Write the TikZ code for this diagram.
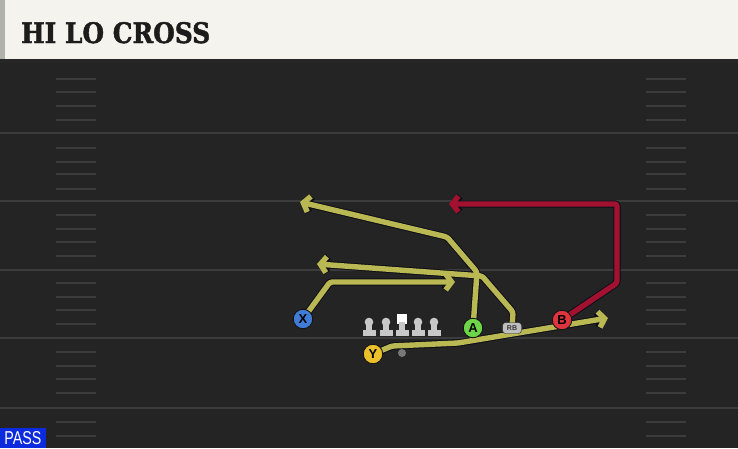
\documentclass[tikz,border=0pt]{standalone}
\usepackage{fontspec}
\usepackage{graphicx}
\usetikzlibrary{arrows.meta}
\newfontfamily\titlefont{DejaVu Serif}[BoldFeatures={FakeBold=1.6}]
\newfontfamily\lblfont{Liberation Sans}
\definecolor{fieldbg}{RGB}{36,36,36}
\definecolor{fieldline}{RGB}{60,60,60}
\definecolor{headbg}{RGB}{245,243,237}
\definecolor{headedge}{RGB}{176,178,172}
\definecolor{routey}{RGB}{185,184,82}
\definecolor{router}{RGB}{162,18,48}
\definecolor{routeedge}{RGB}{14,14,24}
\definecolor{cx}{RGB}{64,124,214}
\definecolor{ca}{RGB}{108,214,72}
\definecolor{cy}{RGB}{236,192,42}
\definecolor{cb}{RGB}{222,52,62}
\definecolor{linegray}{RGB}{200,200,200}
\definecolor{passblue}{RGB}{12,42,222}
\pgfdeclarelayer{field}
\pgfdeclarelayer{routes}
\pgfsetlayers{field,routes,main}
\tikzset{
  player/.style={circle, draw={rgb,255:red,20;green,20;blue,20}, line width=0.9pt, minimum size=19.5pt, inner sep=0pt,
    font=\lblfont\bfseries\fontsize{13}{13}\selectfont, text=black},
  routeout/.style={line width=7.4pt, draw=routeedge, rounded corners=2.5pt,
    -{Straight Barb[length=6pt,width=16pt]}},
  routein/.style={line width=5.4pt, rounded corners=2.5pt, -{Straight Barb[length=6pt,width=16pt]}},
  hash/.style={fieldline, line width=1.3pt},
  yard/.style={fieldline, line width=2pt},
}
\newcommand{\lineman}[1]{%
  \fill[linegray] (#1,322) circle (4.3pt);
  \fill[linegray] (#1-3,322) rectangle (#1+3,331);
  \fill[linegray] (#1-6.5,329.5) rectangle (#1+6.5,336);
}
\begin{document}
\begin{tikzpicture}[x=1pt,y=-1pt]
\useasboundingbox (0,0) rectangle (738,448);
\begin{pgfonlayer}{field}
\fill[fieldbg] (0,0) rectangle (738,448);
\foreach \yy in {133,201,270,338,408} \draw[yard] (0,\yy) -- (738,\yy);
\foreach \yy in {79,92,106,120,148,162,174,189,215,229,242,256,283,297,310,324,352,366,379,393,422,436} {
  \draw[hash] (56,\yy) -- (96,\yy);
  \draw[hash] (646,\yy) -- (686,\yy);
}
\fill[headbg] (0,0) rectangle (738,59);
\fill[headedge] (0,0) rectangle (5,59);
\fill[black!85] (0,59) rectangle (738,63);
\end{pgfonlayer}
\node[anchor=base west, inner sep=0pt, text={rgb,255:red,28;green,28;blue,28}] (title) at (21,43)
  {\resizebox{189pt}{21pt}{\titlefont\bfseries HI LO CROSS}};
% players
\node[player, fill=cx] (X) at (303,319) {X};
\node[player, fill=cy] (Y) at (373,354) {Y};
\node[player, fill=ca] (A) at (473,328) {A};
\node[player, fill=cb] (B) at (562,320) {B};
\node[draw={rgb,255:red,30;green,30;blue,30}, fill={rgb,255:red,190;green,190;blue,190}, rounded corners=3pt,
  minimum width=19pt, minimum height=11pt, inner sep=0pt,
  font=\lblfont\bfseries\fontsize{7}{7}\selectfont, text={rgb,255:red,55;green,55;blue,55}] (RB) at (512,328) {RB};
\node[circle, fill={rgb,255:red,120;green,120;blue,120}, minimum size=8pt, inner sep=0pt] (ball) at (402,353) {};
% linemen
\lineman{369}
\lineman{386}
\fill[white] (397,314) rectangle (407,323.5);
\fill[linegray] (399,322) rectangle (405,331);
\fill[linegray] (395.5,329.5) rectangle (408.5,336);
\lineman{418}
\lineman{434}
% route endpoints
\coordinate (xe) at (455,282);
\coordinate (ye) at (608,318);
\coordinate (ae) at (300,202);
\coordinate (re) at (317,264);
\coordinate (be) at (449,204);
\begin{pgfonlayer}{routes}
\foreach \st/\col in {routeout/routeedge, routein/routey} {
  \draw[\st, draw=\col] (X.center) -- (330,282) -- (xe);
  \draw[\st, draw=\col] (Y.center) -- (392,346) -- (458,343) -- (ye);
  \draw[\st, draw=\col] (A.center) -- (477,272) -- (447,237) -- (ae);
  \draw[\st, draw=\col] (RB.center) -- (513,312) -- (482,276) -- (re);
}
\draw[routeout] (B.center) -- (617,283) -- (617,204) -- (be);
\draw[routein, draw=router] (B.center) -- (617,283) -- (617,204) -- (be);
\end{pgfonlayer}
% PASS tag
\node[fill=passblue, text=white, inner sep=0pt, minimum width=46pt, minimum height=20pt] (pass) at (23,438)
  {\resizebox{37pt}{13pt}{\lblfont PASS}};
\end{tikzpicture}
\end{document}
